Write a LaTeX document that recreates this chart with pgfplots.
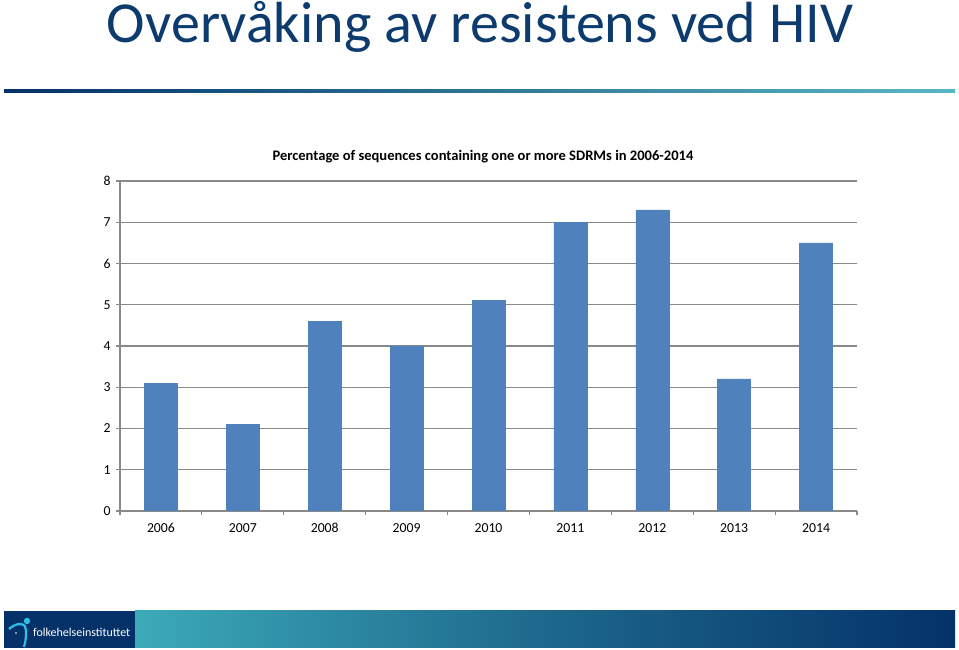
\documentclass[border=0pt]{standalone}
\usepackage{pgfplots}
\pgfplotsset{compat=1.18}
\usepackage{fontspec}
\setmainfont{Carlito}
\definecolor{barblue}{HTML}{4F81BD}
\definecolor{titleblue}{RGB}{13,59,110}
\definecolor{gridgray}{HTML}{898989}
\definecolor{navy}{RGB}{4,50,104}
\definecolor{tealc}{RGB}{60,170,185}
\definecolor{logocyan}{RGB}{50,190,230}
\begin{document}
\begin{tikzpicture}[x=1bp,y=1bp]
\path[use as bounding box,fill=white] (0,0) rectangle (959,650);
% main title
\node[anchor=base,text=titleblue,inner sep=0] at (480,607) {\resizebox{746bp}{!}{\fontsize{58}{60}\selectfont Overvåking av resistens ved HIV}};
% gradient rule
\shade[left color=navy,right color=tealc!85!white] (4,557.5) rectangle (955,560.5);
% footer
\shade[left color=tealc,right color=navy,middle color=tealc!45!navy] (135,2) rectangle (955,39);
\fill[navy] (4,2) rectangle (135,39);
\node[anchor=west,text=white,inner sep=0] at (33,18) {\resizebox{97bp}{!}{\fontsize{11}{12}\selectfont folkehelseinstituttet}};
\fill[logocyan] (27,29) circle (3.2);
\draw[logocyan,line width=2.2] (9,21) .. controls (16,27) and (22,27) .. (25,24) .. controls (27,18) and (26,10) .. (24,3);
\fill[white] (16,17) circle (0.9);
% chart
\begin{axis}[
  at={(120bp,139bp)}, anchor=south west,
  scale only axis, width=737bp, height=330bp,
  xmin=-0.5, xmax=8.5, ymin=0, ymax=8,
  ytick={0,1,...,8},
  xtick={0,1,...,8},
  xticklabels={2006,2007,2008,2009,2010,2011,2012,2013,2014},
  minor xtick={-0.5,0.5,...,8.5},
  major x tick style={draw=none},
  minor x tick style={gridgray, line width=1.2bp},
  y tick style={gridgray, line width=1.2bp},
  tick align=outside,
  major tick length=4bp, minor tick length=4bp,
  axis x line*=bottom, axis y line*=left,
  axis line style={gridgray, line width=1.3bp},
  ymajorgrids, grid style={gridgray, line width=1.2bp},
  ticklabel style={font=\fontsize{13.8}{15}\selectfont},
  /pgf/number format/assume math mode=true,
  xticklabel style={anchor=north, text height=8.6bp, text depth=0bp, yshift=-5.5bp},
  yticklabel style={xshift=-2bp},
  title={Percentage of sequences containing one or more SDRMs in 2006-2014},
  title style={font=\fontsize{14.6}{16}\selectfont\bfseries, at={(0.4925,1)}, anchor=base, yshift=15bp},
  ybar, bar width=33bp, bar shift=0pt,
]
\addplot[fill=barblue, draw=barblue] coordinates {(0,3.1) (1,2.1) (2,4.6) (3,4.0) (4,5.1) (5,7.0) (6,7.3) (7,3.2) (8,6.5)};
\end{axis}
\end{tikzpicture}
\end{document}
